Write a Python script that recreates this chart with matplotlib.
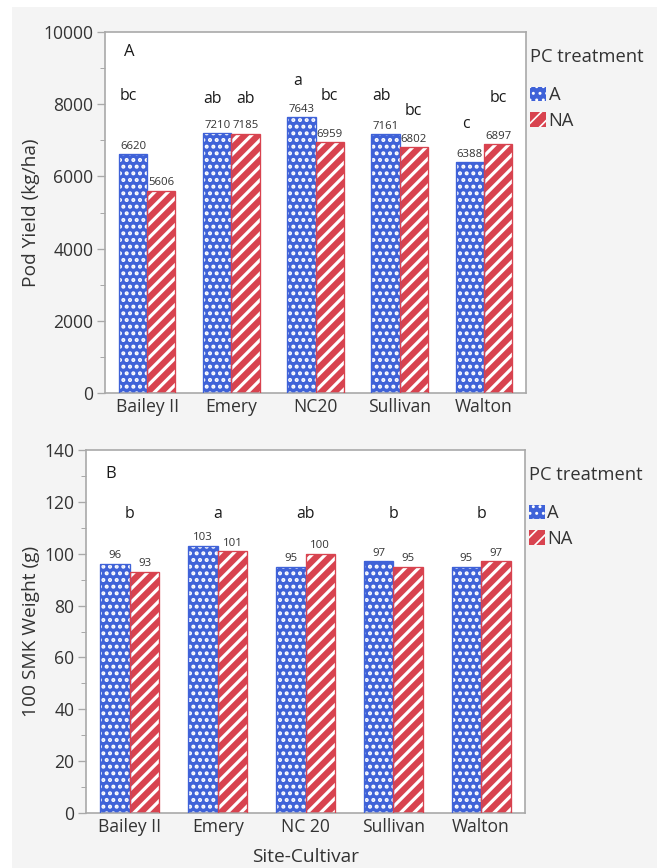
import matplotlib
matplotlib.use("Agg")
import matplotlib.pyplot as plt
from matplotlib.patches import Rectangle
from matplotlib.ticker import MultipleLocator
import numpy as np

# ---------------- data ----------------
cultivars_top = ["Bailey II", "Emery", "NC20", "Sullivan", "Walton"]
cultivars_bot = ["Bailey II", "Emery", "NC 20", "Sullivan", "Walton"]
treatments = ["A", "NA"]

yield_A = [6620, 7210, 7643, 7161, 6388]
yield_NA = [5606, 7185, 6959, 6802, 6897]
letters_yield_A = ["bc", "ab", "a", "ab", "c"]
letters_yield_NA = ["", "ab", "bc", "bc", "bc"]
letter_y_yield_A = [8230, 8140, 8640, 8230, 7450]
letter_y_yield_NA = [8230, 8140, 8230, 7810, 8170]

smk_A = [96, 103, 95, 97, 95]
smk_NA = [93, 101, 100, 95, 97]
letters_smk = ["b", "a", "ab", "b", "b"]
letter_y_smk = 115.5

# ---------------- style ----------------
plt.rcParams['font.family'] = ['Open Sans', 'DejaVu Sans']

BLUE = '#3f62d8'
RED = '#d8434f'
TXT = '#333333'
SPINE = '#a9a9a9'
BG = '#f4f4f4'

DPI = 120
fig = plt.figure(figsize=(657 / DPI, 868 / DPI), dpi=DPI, facecolor='white')
fig.patches.append(Rectangle((12 / 657, 0), 1, 1 - 7 / 868, transform=fig.transFigure,
                             facecolor=BG, edgecolor='none', zorder=-10))

ax1 = fig.add_axes([105 / 657, 1 - 393 / 868, 421 / 657, 361 / 868])
ax2 = fig.add_axes([86 / 657, 1 - 813 / 868, 439 / 657, 363 / 868])

W = 0.335


def draw_bars(ax, vA, vNA):
    x = np.arange(len(vA))
    with plt.rc_context({'hatch.linewidth': 1.6}):
        hA = ax.bar(x - W / 2, vA, W, facecolor=BLUE, edgecolor='white', linewidth=0,
                    hatch='...', zorder=2, label='A')
    with plt.rc_context({'hatch.linewidth': 1.9}):
        hN = ax.bar(x + W / 2, vNA, W, facecolor=RED, edgecolor='white', linewidth=0,
                    hatch='///', zorder=2, label='NA')
    ax.bar(x - W / 2, vA, W, fill=False, edgecolor=BLUE, linewidth=0.8, zorder=3)
    ax.bar(x + W / 2, vNA, W, fill=False, edgecolor=RED, linewidth=0.8, zorder=3)
    return x, hA, hN


def style(ax, ymax, major, minor, labels, ylabel):
    ax.set_facecolor('white')
    ax.set_xlim(-0.5, 4.5)
    ax.set_ylim(0, ymax)
    ax.yaxis.set_major_locator(MultipleLocator(major))
    ax.yaxis.set_minor_locator(MultipleLocator(minor))
    ax.set_xticks(np.arange(len(labels)))
    ax.set_xticklabels(labels)
    for s in ax.spines.values():
        s.set_color(SPINE)
        s.set_linewidth(1.0)
    ax.tick_params(axis='x', length=0, labelsize=10.5, labelcolor=TXT, pad=3)
    ax.tick_params(axis='y', which='major', length=5, color=SPINE, labelsize=10.5,
                   labelcolor=TXT, pad=2)
    ax.tick_params(axis='y', which='minor', length=3, color=SPINE)
    ax.set_ylabel(ylabel, fontsize=11.5, color=TXT)


def legend(ax):
    lg = ax.legend(title='PC treatment', loc='upper left', bbox_to_anchor=(0.98, 0.99),
                   frameon=False, fontsize=11, title_fontsize=11, handlelength=0.85,
                   handleheight=0.85, handletextpad=0.15, labelspacing=0.4,
                   borderaxespad=0.3, alignment='left')
    lg._legend_box.sep = 12
    for t in lg.get_texts():
        t.set_color(TXT)
    lg.get_title().set_color(TXT)


LET = dict(ha='center', va='center', fontsize=9.5, fontweight='medium', color='#1a1a1a')

# ---- top panel ----
x, hA, hN = draw_bars(ax1, yield_A, yield_NA)
style(ax1, 10000, 2000, 1000, cultivars_top, 'Pod Yield (kg/ha)')
ax1.yaxis.set_label_coords(-0.155, 0.5)
for i in range(len(x)):
    ax1.text(x[i] - W / 2, yield_A[i] + 60, f"{yield_A[i]}", ha='center', va='bottom',
             fontsize=6.8, color=TXT)
    ax1.text(x[i] + W / 2, yield_NA[i] + 60, f"{yield_NA[i]}", ha='center', va='bottom',
             fontsize=6.8, color=TXT)
    ax1.text(x[i] - W / 2 - 0.05, letter_y_yield_A[i], letters_yield_A[i], **LET)
    if letters_yield_NA[i]:
        ax1.text(x[i] + W / 2, letter_y_yield_NA[i], letters_yield_NA[i], **LET)
ax1.text(0.045, 0.945, 'A', transform=ax1.transAxes, ha='left', va='center', fontsize=10,
         color='#1a1a1a')
legend(ax1)

# ---- bottom panel ----
x, hA, hN = draw_bars(ax2, smk_A, smk_NA)
style(ax2, 140, 20, 10, cultivars_bot, '100 SMK Weight (g)')
ax2.yaxis.set_label_coords(-0.105, 0.5)
for i in range(len(x)):
    ax2.text(x[i] - W / 2, smk_A[i] + 1.0, f"{smk_A[i]}", ha='center', va='bottom',
             fontsize=6.8, color=TXT)
    ax2.text(x[i] + W / 2, smk_NA[i] + 1.0, f"{smk_NA[i]}", ha='center', va='bottom',
             fontsize=6.8, color=TXT)
    ax2.text(x[i], letter_y_smk, letters_smk[i], **LET)
ax2.text(0.045, 0.935, 'B', transform=ax2.transAxes, ha='left', va='center', fontsize=10,
         color='#1a1a1a')
ax2.set_xlabel('Site-Cultivar', fontsize=11.5, color=TXT, labelpad=7)
legend(ax2)

fig.savefig('out.png', dpi=DPI, facecolor=fig.get_facecolor())
